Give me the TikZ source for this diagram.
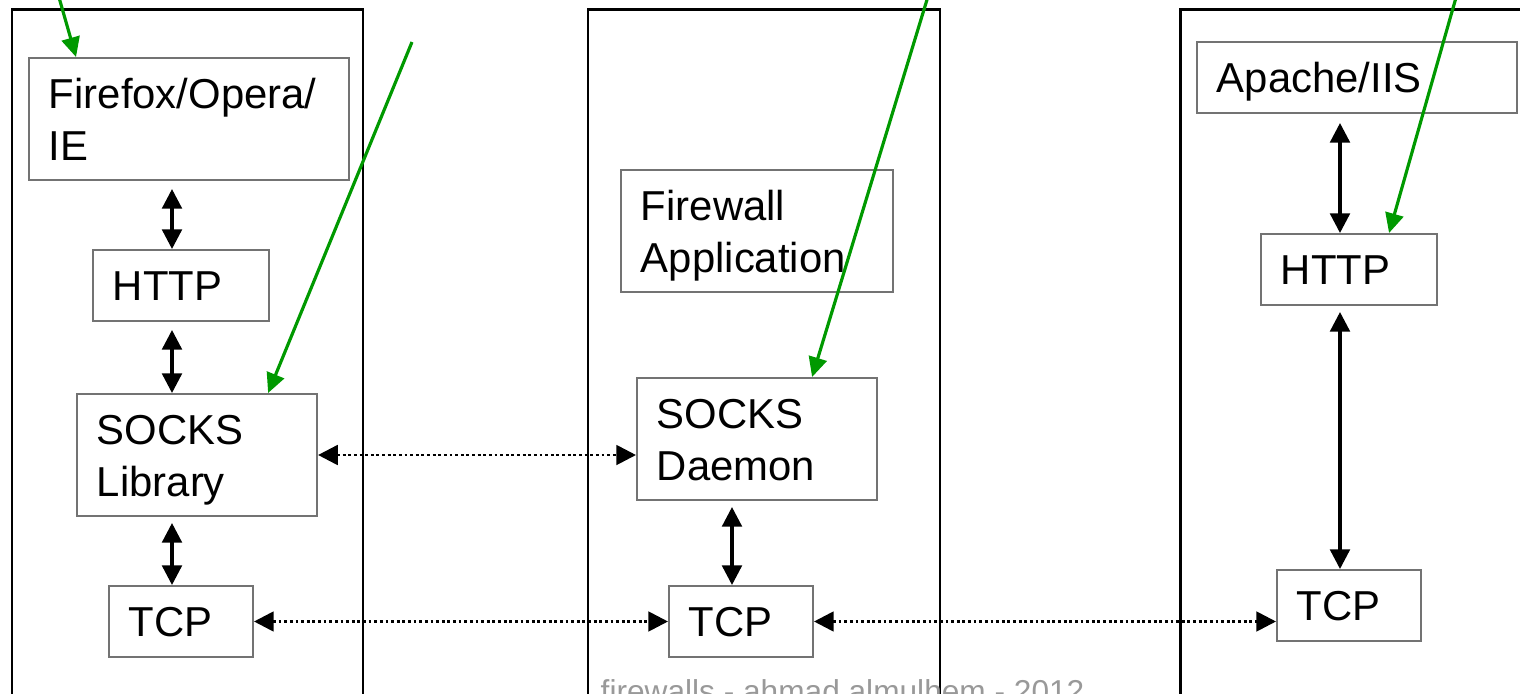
\documentclass[tikz,border=0pt]{standalone}
\usepackage{fontspec}
\setmainfont{Liberation Sans}
\usetikzlibrary{arrows.meta}
\definecolor{pptgreen}{RGB}{0,153,0}

\begin{document}
\begin{tikzpicture}[
    x=0.01cm, y=-0.01cm,
    tier/.style={draw, line width=0.85pt},
    box/.style={rectangle, draw=black!55, line width=0.55pt, anchor=north west, align=left, inner xsep=0.2cm, inner ysep=0pt, text height=0.3cm, text depth=0pt, font=\fontsize{11.9pt}{14.8pt}\selectfont},
    two/.style={text depth=0.52cm},
    link/.style={{Triangle[length=5.6pt,width=5.6pt]}-{Triangle[length=5.6pt,width=5.6pt]}, line width=0.95pt},
    peer/.style={link, line width=0.8pt, dash pattern=on 0.8pt off 0.8pt},
    note/.style={-{Triangle[length=5.6pt,width=5.2pt]}, draw=pptgreen, line width=0.9pt}
]
    \useasboundingbox (0,0) rectangle (1520,693);
    \clip (0,0) rectangle (1520,693);

    \draw[tier] (12,9) rectangle (363,720);
    \draw[tier] (588,9) rectangle (940,720);
    \draw[tier] (1180,9) rectangle (1540,720);

    \node[box, two, text width=2.8cm, minimum height=1.22cm] (browser) at (28,57) {Firefox/Opera/\\IE};
    \node[box, text width=1.36cm, minimum height=0.71cm] (httpL) at (92,249) {HTTP};
    \node[box, two, text width=2.0cm, minimum height=1.22cm] (socksLib) at (76,393) {SOCKS\\Library};
    \node[box, text width=1.04cm, minimum height=0.71cm] (tcpL) at (108,585) {TCP};

    \node[box, two, text width=2.32cm, minimum height=1.22cm] (fwApp) at (620,169) {Firewall\\Application};
    \node[box, two, text width=2.0cm, minimum height=1.22cm] (socksD) at (636,377) {SOCKS\\Daemon};
    \node[box, text width=1.04cm, minimum height=0.71cm] (tcpM) at (668,585) {TCP};

    \node[box, text width=2.8cm, minimum height=0.71cm] (server) at (1196,41) {Apache/IIS};
    \node[box, text width=1.36cm, minimum height=0.71cm] (httpR) at (1260,233) {HTTP};
    \node[box, text width=1.04cm, minimum height=0.71cm] (tcpR) at (1276,569) {TCP};

    \node[anchor=base west, inner sep=0pt, text=black!40, font=\fontsize{9pt}{11pt}\selectfont] (footer) at (600,702) {firewalls - ahmad almulhem - 2012};

    \coordinate (axL) at (172,0);
    \coordinate (axM) at (732,0);
    \coordinate (axR) at (1340,0);

    \draw[link, shorten <=0.08cm] (browser.south -| axL) -- (httpL.north -| axL);
    \draw[link, shorten <=0.08cm] (httpL.south -| axL) -- (socksLib.north -| axL);
    \draw[link, shorten <=0.06cm] (socksLib.south -| axL) -- (tcpL.north -| axL);
    \draw[link, shorten <=0.06cm] (socksD.south -| axM) -- (tcpM.north -| axM);
    \draw[link, shorten <=0.09cm] (server.south -| axR) -- (httpR.north -| axR);
    \draw[link, shorten <=0.06cm] (httpR.south -| axR) -- (tcpR.north -| axR);

    \draw[peer] (socksLib.east) -- (socksLib.east -| socksD.west);
    \draw[peer] (tcpL.east) -- (tcpM.west);
    \draw[peer] (tcpM.east) -- (tcpM.east -| tcpR.west);

    \coordinate (n1) at (54,-20);
    \coordinate (n2) at (412,42);
    \coordinate (n3) at (933,-20);
    \coordinate (n4) at (1461,-20);
    \draw[note] (n1) -- ([xshift=0.48cm]browser.north west);
    \draw[note] (n2) -- ([xshift=1.92cm]socksLib.north west);
    \draw[note] (n3) -- ([xshift=1.76cm]socksD.north west);
    \draw[note] (n4) -- ([xshift=1.29cm]httpR.north west);
\end{tikzpicture}
\end{document}
